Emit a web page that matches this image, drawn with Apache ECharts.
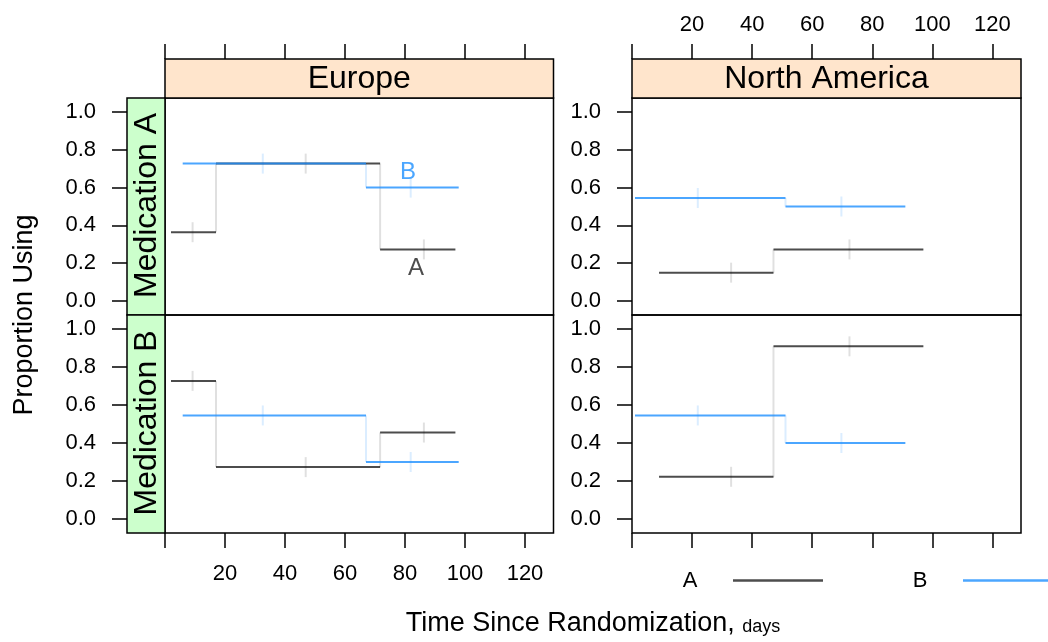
<!DOCTYPE html>
<html>
<head>
<meta charset="utf-8">
<script src="https://cdn.jsdelivr.net/npm/echarts@6/dist/echarts.min.js"></script>
<style>
  html, body { margin: 0; padding: 0; background: #fff; }
  #chart { width: 1048px; height: 642px; }
</style>
</head>
<body>
<div id="chart"></div>
<script>
// Panel factors
const regions = ['Europe', 'North America'];
const medications = ['Medication A', 'Medication B'];
const groups = ['A', 'B'];

// Tick values
const xTickValues = [0, 20, 40, 60, 80, 100, 120];
const xLabelValues = [20, 40, 60, 80, 100, 120];
const yTickValues = [0, 0.2, 0.4, 0.6, 0.8, 1.0];

// Interval boundaries (days) of each step function
const europeDaysA = [2, 17, 71.7, 96.8];
const europeDaysB = [5.9, 67, 97.9];
const americaDaysA = [9, 47.1, 97];
const americaDaysB = [1, 51.1, 91];

// Visit days marked along each step function
const europeVisitsA = [9.2, 46.9, 86.3];
const europeVisitsB = [32.6, 81.9];
const americaVisitsA = [33, 72.4];
const americaVisitsB = [21.9, 69.7];

// Proportion using, one value per interval
const europeMedA_A = [0.364, 0.727, 0.273];
const europeMedA_B = [0.727, 0.6];
const europeMedB_A = [0.727, 0.273, 0.455];
const europeMedB_B = [0.545, 0.3];
const americaMedA_A = [0.15, 0.273];
const americaMedA_B = [0.545, 0.5];
const americaMedB_A = [0.222, 0.909];
const americaMedB_B = [0.545, 0.4];

const FONT = 'Liberation Sans, Arial, Helvetica, sans-serif';
const lineColor = { A: 'rgba(0,0,0,0.7)', B: 'rgba(30,144,255,0.8)' };
const faintColor = { A: 'rgba(0,0,0,0.12)', B: 'rgba(30,144,255,0.16)' };
const solidColor = { A: '#4d4d4d', B: '#4ba6ff' };

// Panel geometry: columns = regions, rows = medications
const colLeft = [165, 632];
const colWidth = [388.5, 389];
const rowTop = [98, 315];
const rowHeight = [217, 218];
const stripH = 39;
const stripW = 38;

const panels = [
  { row: 0, col: 0, days: { A: europeDaysA, B: europeDaysB }, visits: { A: europeVisitsA, B: europeVisitsB }, levels: { A: europeMedA_A, B: europeMedA_B } },
  { row: 0, col: 1, days: { A: americaDaysA, B: americaDaysB }, visits: { A: americaVisitsA, B: americaVisitsB }, levels: { A: americaMedA_A, B: americaMedA_B } },
  { row: 1, col: 0, days: { A: europeDaysA, B: europeDaysB }, visits: { A: europeVisitsA, B: europeVisitsB }, levels: { A: europeMedB_A, B: europeMedB_B } },
  { row: 1, col: 1, days: { A: americaDaysA, B: americaDaysB }, visits: { A: americaVisitsA, B: americaVisitsB }, levels: { A: americaMedB_A, B: americaMedB_B } }
];

const grid = [], xAxis = [], yAxis = [], series = [];

function levelAt(days, levels, d) {
  for (let i = 0; i < levels.length; i++) {
    if (d >= days[i] && d < days[i + 1]) return levels[i];
  }
  return levels[levels.length - 1];
}

panels.forEach((p, gi) => {
  grid.push({
    left: colLeft[p.col], top: rowTop[p.row],
    width: colWidth[p.col], height: rowHeight[p.row],
    show: true, borderColor: '#000', borderWidth: 1.5, backgroundColor: 'transparent'
  });
  const top = p.row === 0;
  xAxis.push({
    gridIndex: gi, type: 'value', min: 0, max: 129.5,
    position: top ? 'top' : 'bottom', offset: top ? stripH : 0,
    axisLine: { show: false, onZero: false },
    splitLine: { show: false },
    axisTick: { show: true, length: 15, customValues: xTickValues, lineStyle: { color: '#000', width: 1.5 } },
    axisLabel: {
      show: (top && p.col === 1) || (!top && p.col === 0),
      customValues: xLabelValues, margin: top ? 23 : 30,
      fontSize: 22, color: '#000', fontFamily: FONT
    }
  });
  yAxis.push({
    gridIndex: gi, type: 'value', min: -0.074, max: 1.074,
    position: 'left', offset: p.col === 0 ? stripW : 0,
    axisLine: { show: false, onZero: false },
    splitLine: { show: false },
    axisTick: { show: true, length: 15, customValues: yTickValues, lineStyle: { color: '#000', width: 1.5 } },
    axisLabel: {
      customValues: yTickValues, margin: 31, formatter: v => v.toFixed(1),
      fontSize: 22, color: '#000', fontFamily: FONT
    }
  });

  // faint risers and visit marks first, then the horizontal steps (B over A)
  groups.forEach(g => {
    const days = p.days[g], lv = p.levels[g];
    const risers = lv.slice(1).map((v, i) => [days[i + 1], lv[i], v]);
    series.push({
      type: 'custom', name: g + ' risers', xAxisIndex: gi, yAxisIndex: gi, silent: true,
      data: risers,
      renderItem: (params, api) => {
        const a = api.coord([api.value(0), api.value(1)]);
        const b = api.coord([api.value(0), api.value(2)]);
        return { type: 'line', shape: { x1: a[0], y1: a[1], x2: b[0], y2: b[1] },
                 style: { stroke: faintColor[g], lineWidth: 2 } };
      }
    });
    const marks = p.visits[g].map(d => [d, levelAt(days, lv, d)]);
    series.push({
      type: 'custom', name: g + ' visits', xAxisIndex: gi, yAxisIndex: gi, silent: true,
      data: marks,
      renderItem: (params, api) => {
        const c = api.coord([api.value(0), api.value(1)]);
        return { type: 'line', shape: { x1: c[0], y1: c[1] - 10, x2: c[0], y2: c[1] + 10 },
                 style: { stroke: faintColor[g], lineWidth: 2 } };
      }
    });
  });
  groups.forEach(g => {
    const days = p.days[g], lv = p.levels[g];
    const segs = lv.map((v, i) => [days[i], days[i + 1], v]);
    series.push({
      type: 'custom', name: g, xAxisIndex: gi, yAxisIndex: gi, silent: true,
      data: segs,
      renderItem: (params, api) => {
        const a = api.coord([api.value(0), api.value(2)]);
        const b = api.coord([api.value(1), api.value(2)]);
        return { type: 'line', shape: { x1: a[0], y1: a[1], x2: b[0], y2: b[1] },
                 style: { stroke: lineColor[g], lineWidth: 2 } };
      }
    });
  });
});

// Direct group labels in the first panel
const groupLabelAt = { B: [81, 0.68], A: [83.7, 0.174] };
series.push({
  type: 'custom', name: 'group labels', xAxisIndex: 0, yAxisIndex: 0, silent: true,
  data: groups.map(g => [groupLabelAt[g][0], groupLabelAt[g][1]]),
  renderItem: (params, api) => {
    const g = groups[params.dataIndex];
    const c = api.coord([api.value(0), api.value(1)]);
    return { type: 'text', x: c[0], y: c[1],
             style: { text: g, fill: solidColor[g], fontSize: 24, fontFamily: FONT, align: 'center', verticalAlign: 'middle' } };
  }
});

// Strips, legend and axis titles
const graphic = [];
regions.forEach((r, c) => {
  graphic.push({ type: 'rect', z: 10,
    shape: { x: colLeft[c], y: rowTop[0] - stripH, width: colWidth[c], height: stripH },
    style: { fill: '#ffe5cc', stroke: '#000', lineWidth: 1.5 } });
  graphic.push({ type: 'text', z: 11, x: colLeft[c] + colWidth[c] / 2, y: rowTop[0] - stripH / 2 + 1,
    style: { text: r, fontSize: 32, fontFamily: FONT, fill: '#000', align: 'center', verticalAlign: 'middle' } });
});
medications.forEach((m, rI) => {
  graphic.push({ type: 'rect', z: 10,
    shape: { x: colLeft[0] - stripW, y: rowTop[rI], width: stripW, height: rowHeight[rI] },
    style: { fill: '#ccffcc', stroke: '#000', lineWidth: 1.5 } });
  graphic.push({ type: 'text', z: 11, x: colLeft[0] - stripW / 2 + 1, y: rowTop[rI] + rowHeight[rI] / 2 - 1,
    rotation: Math.PI / 2,
    style: { text: m, fontSize: 32, fontFamily: FONT, fill: '#000', align: 'center', verticalAlign: 'middle' } });
});
// legend keys
const legendTextX = [690, 920];
const legendLineX = [[733, 823], [963, 1060]];
groups.forEach((g, i) => {
  graphic.push({ type: 'text', x: legendTextX[i], y: 581,
    style: { text: g, fontSize: 22, fontFamily: FONT, fill: '#000', align: 'center', verticalAlign: 'middle' } });
  graphic.push({ type: 'line',
    shape: { x1: legendLineX[i][0], y1: 580.5, x2: legendLineX[i][1], y2: 580.5 },
    style: { stroke: solidColor[g], lineWidth: 2.5 } });
});
graphic.push({ type: 'text', x: 593, y: 624,
  style: { text: '{a|Time Since Randomization, }{b|days}', fontFamily: FONT, fill: '#000',
           align: 'center', verticalAlign: 'middle',
           rich: { a: { fontSize: 27, fontFamily: FONT }, b: { fontSize: 18, fontFamily: FONT, padding: [6, 0, 0, 0] } } } });
graphic.push({ type: 'text', x: 25, y: 315, rotation: Math.PI / 2,
  style: { text: 'Proportion Using', fontSize: 27, fontFamily: FONT, fill: '#000', align: 'center', verticalAlign: 'middle' } });

const chart = echarts.init(document.getElementById('chart'), null, { renderer: 'canvas' });
chart.setOption({
  animation: false,
  backgroundColor: '#fff',
  grid, xAxis, yAxis, series, graphic
});
</script>
</body>
</html>
